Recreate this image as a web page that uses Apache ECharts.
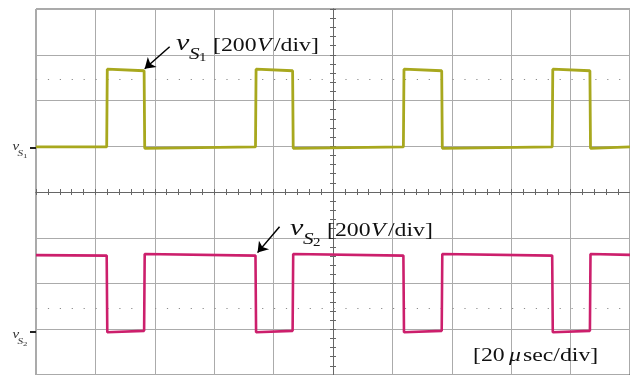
<!DOCTYPE html>
<html>
<head>
<meta charset="utf-8">
<title>vS1 / vS2 switch voltages</title>
<script src="https://cdn.jsdelivr.net/npm/echarts@6/dist/echarts.min.js"></script>
<style>
  html, body { margin: 0; padding: 0; background: #fff; }
  #chart { width: 630px; height: 375px; }
</style>
</head>
<body>
<div id="chart"></div>
<script>
// time axis: 20 us/div, trigger at centre
const timeMin = -100;
const timeMax = 100;
const timeStep = 20;
// graticule in divisions (8 vertical divs)
const divMin = -4;
const divMax = 4;
// per-channel volt scales (200 V/div, ground marker offsets)
const ch1Range = [-995, 605];
const ch2Range = [-190, 1410];

// vS1 trace (us, V)
const tS1 = [-100, -76.2, -76.0, -75.4, -63.6, -63.4, -62.8, -26.1, -25.9, -25.3, -13.6, -13.4, -12.8,
  23.7, 23.9, 24.5, 36.6, 36.8, 37.4, 73.8, 74.0, 74.6, 86.5, 86.7, 87.3, 100];
const vS1 = [2, 2, 342, 338, 335, -4, 2, 2, 342, 338, 335, -4, 2,
  2, 342, 338, 335, -4, 2, 2, 342, 338, 335, -4, 2, 2];

// vS2 trace (us, V)
const tS2 = [-100, -76.2, -76.0, -75.4, -63.6, -63.4, -62.8, -26.1, -25.9, -25.3, -13.6, -13.4, -12.8,
  23.7, 23.9, 24.5, 36.6, 36.8, 37.4, 73.8, 74.0, 74.6, 86.5, 86.7, 87.3, 100];
const vS2 = [334, 332, -3, 2, 3, 339, 336, 332, -3, 2, 3, 339, 336,
  332, -3, 2, 3, 339, 336, 332, -3, 2, 3, 339, 336, 335];

// dotted reference levels (V)
const refS1 = 300;
const refS2 = 100;

// arrows: [tail, tip] in (us, V)
const arrowS1 = [[-55.0, 440], [-63.4, 344]];
const arrowS2 = [[-18.0, 458], [-25.4, 345]];

const gridColor = '#ababab';
const axisColor = '#666';
const serif = '"Liberation Serif", "Times New Roman", serif';

function zip(t, v) {
  return t.map((x, i) => [x, v[i]]);
}

// one piece of text, baseline at y, stretched like the scanned figure
function piece(text, x, base, size, italic, color) {
  return {
    type: 'text',
    x: x,
    y: base - size * 0.33,
    scaleX: 1.25,
    z: 100,
    style: {
      text: text,
      font: (italic ? 'italic ' : '') + size + 'px ' + serif,
      fill: color || '#111',
      textAlign: 'left',
      textVerticalAlign: 'middle',
    },
  };
}

function channelLabel(dx, dy, sub) {
  return [
    piece('v', 176 + dx, 52 + dy, 24, true),
    piece('S', 189 + dx, 60 + dy, 17, true),
    piece(sub, 199 + dx, 62 + dy, 12, false),
    piece('[200', 213 + dx, 52.5 + dy, 19, false),
    piece('V', 257 + dx, 52.5 + dy, 19, true),
    piece('/div]', 274 + dx, 52.5 + dy, 19, false),
  ];
}

function groundLabel(y, sub) {
  return [
    piece('v', 12.5, y + 1, 12, true, '#333'),
    piece('S', 17.5, y + 7, 9, true, '#333'),
    piece(sub, 23, y + 8, 7, false, '#333'),
  ];
}

function centreAxis(pos, showSplit) {
  return {
    type: 'value',
    position: pos,
    axisLine: { show: true, onZero: true, onZeroAxisIndex: 0, lineStyle: { color: axisColor, width: 1 } },
    axisTick: { show: true, length: 3, lineStyle: { color: axisColor } },
    minorTick: { show: true, splitNumber: 5, length: 3, lineStyle: { color: axisColor } },
    axisLabel: { show: false },
    splitLine: { show: showSplit, lineStyle: { color: gridColor, width: 1 } },
  };
}

function groundAxis(range) {
  return {
    type: 'value',
    min: range[0],
    max: range[1],
    position: 'left',
    axisLine: { show: false, onZero: false },
    axisTick: { show: true, customValues: [0], length: 6, lineStyle: { color: '#222', width: 2 } },
    axisLabel: { show: false },
    splitLine: { show: false },
  };
}

function arrowLine(pts) {
  return [
    { coord: pts[0], symbol: 'none', lineStyle: { color: '#000', width: 1.5, type: 'solid' } },
    { coord: pts[1], symbol: 'arrow', symbolSize: 10 },
  ];
}

function refLine(v) {
  return { yAxis: v, lineStyle: { color: '#8c8c8c', width: 1.2, type: [1.2, 10.7] } };
}

const chart = echarts.init(document.getElementById('chart'), null, { renderer: 'canvas' });

const option = {
  animation: false,
  backgroundColor: '#fff',
  grid: {
    left: 36,
    top: 9,
    width: 595,
    height: 368,
    show: true,
    borderColor: '#555',
    borderWidth: 1,
    backgroundColor: 'transparent',
  },
  xAxis: [
    Object.assign(centreAxis('bottom', true), { min: timeMin, max: timeMax, interval: timeStep }),
    Object.assign(centreAxis('top', false), { min: timeMin, max: timeMax, interval: timeStep }),
  ],
  yAxis: [
    Object.assign(centreAxis('left', true), { min: divMin, max: divMax, interval: 1 }),
    groundAxis(ch1Range),
    groundAxis(ch2Range),
    Object.assign(centreAxis('right', false), { min: divMin, max: divMax, interval: 1 }),
  ],
  series: [
    {
      name: 'vS1',
      type: 'line',
      xAxisIndex: 0,
      yAxisIndex: 1,
      data: zip(tS1, vS1),
      showSymbol: false,
      symbol: 'none',
      lineStyle: { color: '#a8a81e', width: 2.8 },
      itemStyle: { color: '#a8a81e' },
      z: 5,
      markLine: {
        silent: true,
        animation: false,
        symbol: 'none',
        label: { show: false },
        data: [refLine(refS1), arrowLine(arrowS1)],
      },
    },
    {
      name: 'vS2',
      type: 'line',
      xAxisIndex: 0,
      yAxisIndex: 2,
      data: zip(tS2, vS2),
      showSymbol: false,
      symbol: 'none',
      lineStyle: { color: '#cc1f6c', width: 2.6 },
      itemStyle: { color: '#cc1f6c' },
      z: 5,
      markLine: {
        silent: true,
        animation: false,
        symbol: 'none',
        label: { show: false },
        data: [refLine(refS2), arrowLine(arrowS2)],
      },
    },
  ],
  graphic: [
    ...channelLabel(0, 0, '1'),
    ...channelLabel(114, 185, '2'),
    ...groundLabel(150, '1'),
    ...groundLabel(338, '2'),
    piece('[20', 473, 362, 19, false),
    piece('\u03bc', 509, 362, 19, true),
    piece('sec/div]', 523, 362, 19, false),
  ],
};

chart.setOption(option);
window.addEventListener('resize', chart.resize);
</script>
</body>
</html>
